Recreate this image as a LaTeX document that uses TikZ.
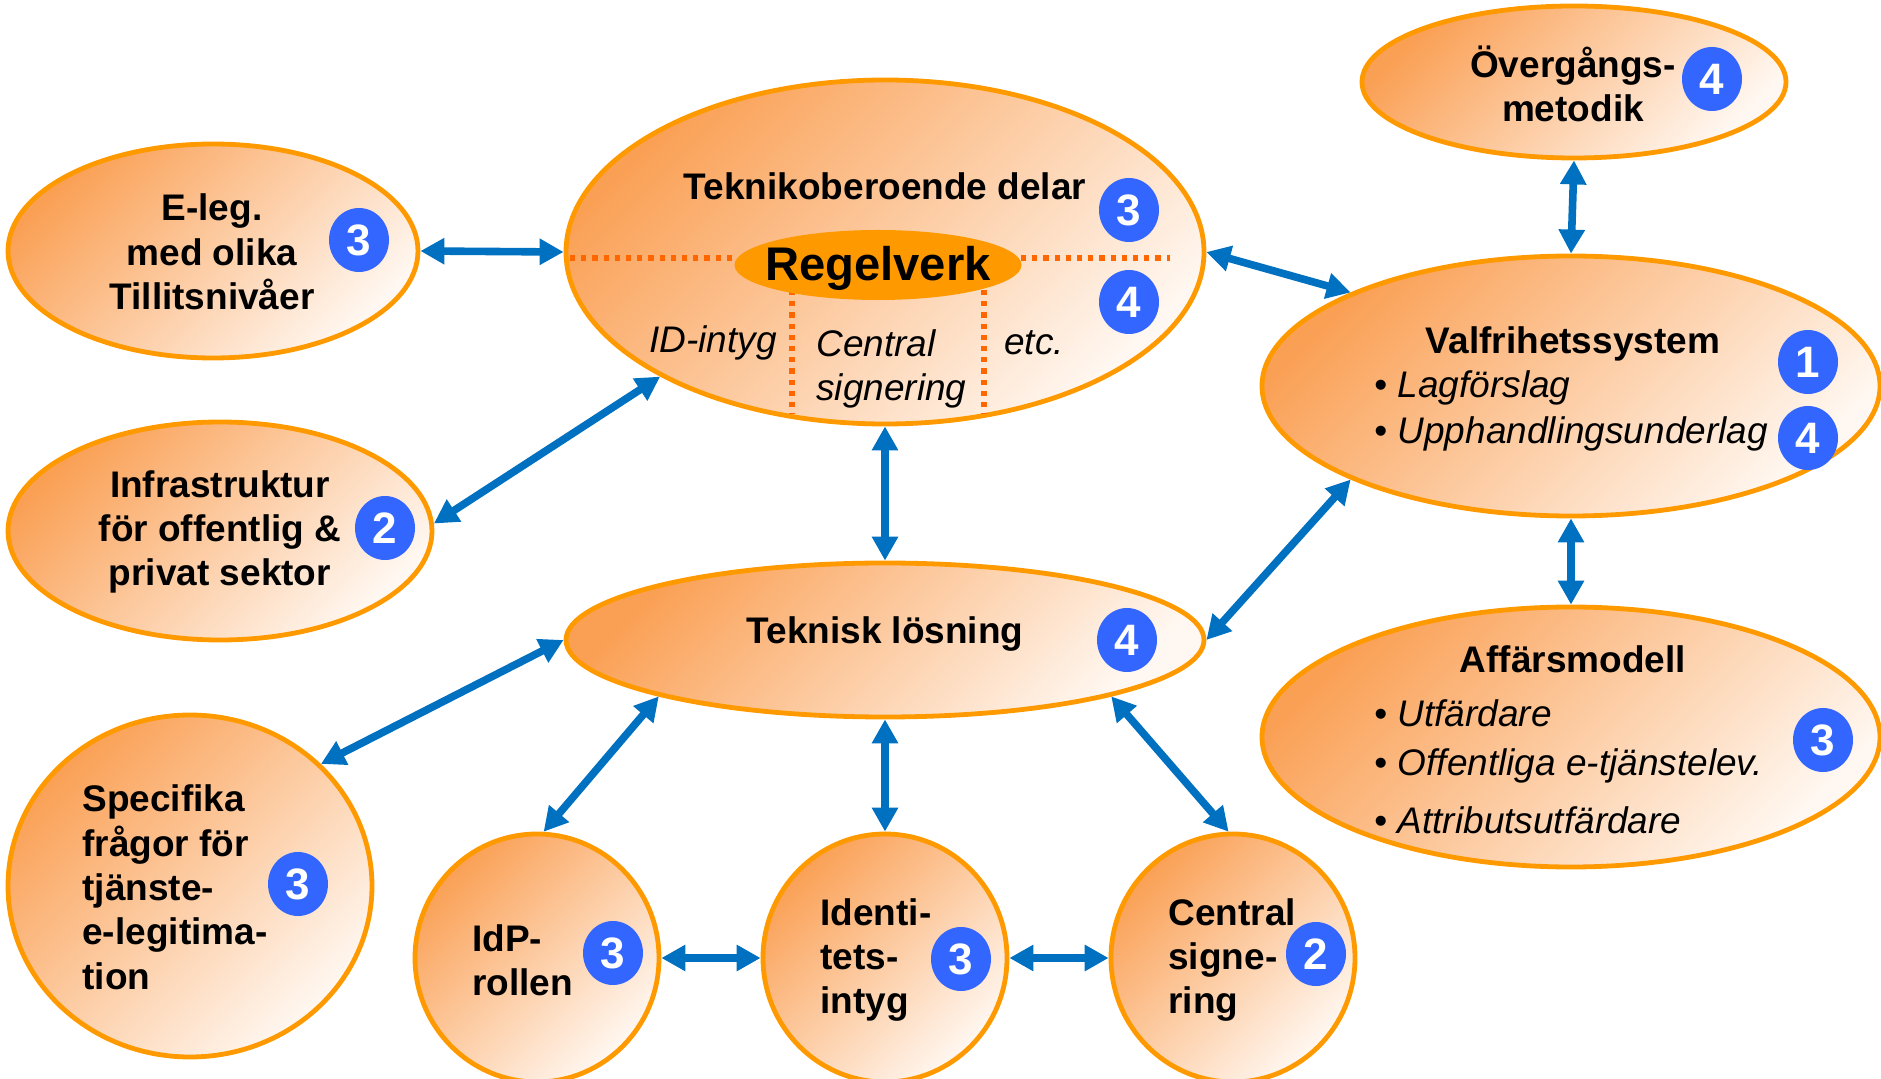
\documentclass[tikz,border=0pt]{standalone}
\usepackage{fontspec}
\setmainfont{Liberation Sans}
\usepackage{tikz}
\usetikzlibrary{shapes.geometric, arrows.meta}
\definecolor{ringorange}{RGB}{255,153,0}
\definecolor{fillorange}{RGB}{250,160,85}
\definecolor{fillwhite}{RGB}{255,248,242}
\definecolor{dotorange}{RGB}{255,102,0}
\definecolor{badgeblue}{RGB}{51,102,255}
\definecolor{linkblue}{RGB}{0,112,192}
\tikzstyle{bubble} = [ellipse, draw=ringorange, line width=2.4pt, top color=fillorange, bottom color=fillwhite, shading angle=45, inner sep=0pt]
\tikzstyle{badge} = [ellipse, fill=badgeblue, text=white, font=\fontsize{22}{22}\selectfont\bfseries, minimum width=30pt, minimum height=32pt, inner sep=0pt]
\tikzstyle{lbl} = [font=\fontsize{18.5}{22.2}\selectfont\bfseries, align=center, inner sep=0pt]
\tikzstyle{itl} = [font=\fontsize{18.5}{22.2}\selectfont\itshape, align=left, inner sep=0pt]
\tikzstyle{dblarrow} = [draw=linkblue, line width=3.8pt, {Triangle[length=12pt,width=12.5pt]}-{Triangle[length=12pt,width=12.5pt]}]
\tikzstyle{divider} = [draw=dotorange, line width=2.8pt, dash pattern=on 2.6pt off 3pt]

\begin{document}
\begin{tikzpicture}[x=0.5pt, y=-0.5pt]
        \useasboundingbox (0,0) rectangle (1881,1079);
        % Bubbles
        \node[bubble, minimum width=205pt, minimum height=107pt] (eleg) at (213,251) {};
        \node[bubble, minimum width=212pt, minimum height=109pt] (infra) at (220,531) {};
        \node[bubble, minimum width=319pt, minimum height=172pt] (tekob) at (885,252) {};
        \node[bubble, minimum width=212pt, minimum height=76pt] (overg) at (1574,82) {};
        \node[bubble, minimum width=309pt, minimum height=130pt] (valfr) at (1571,386) {};
        \node[bubble, minimum width=309pt, minimum height=130pt] (affar) at (1571,737) {};
        \node[bubble, minimum width=319pt, minimum height=77pt] (teklo) at (885,640) {};
        \node[bubble, minimum width=182pt, minimum height=171pt] (spec) at (190,886) {};
        \node[bubble, minimum width=122pt, minimum height=124pt] (idp) at (537,958) {};
        \node[bubble, minimum width=122pt, minimum height=124pt] (ident) at (885,958) {};
        \node[bubble, minimum width=122pt, minimum height=124pt] (csign) at (1233,958) {};

        % Regelverk and its dividers
        \draw[divider] (570,258) -- (734,258);
        \draw[divider] (1021,258) -- (1170,258);
        \draw[divider] (792,290) -- (792,414);
        \draw[divider] (984,290) -- (984,414);
        \node[ellipse, fill=ringorange, minimum width=143.5pt, minimum height=35pt, inner sep=0pt] (regel) at (878,265) {};
        \node[font=\fontsize{23.6}{24}\selectfont\bfseries, inner sep=0pt] (regeltxt) at (878,268) {Regelverk};

        % Texts
        \node[lbl] (elegtxt) at (212,252) {E-leg.\\med olika\\Tillitsnivåer};
        \node[lbl] (infratxt) at (220,532) {Infrastruktur\\för offentlig \&\\privat sektor};
        \node[lbl] (tekobtxt) at (885,186) {Teknikoberoende delar};
        \node[itl] (idintyg) at (713,343) {ID-intyg};
        \node[itl, anchor=west] (censig) at (816,369) {Central\\signering};
        \node[itl] (etc) at (1034,343) {etc.};
        \node[lbl] (overgtxt) at (1573,84) {Övergångs-\\metodik};
        \node[lbl] (valfrtxt) at (1573,344) {Valfrihetssystem};
        \node[itl, anchor=west] (valfr1) at (1374,388) {{\upshape\textbullet} Lagförslag};
        \node[itl, anchor=west] (valfr2) at (1374,434) {{\upshape\textbullet} Upphandlingsunderlag};
        \node[lbl] (affartxt) at (1573,659) {Affärsmodell};
        \node[itl, anchor=west] (affar1) at (1374,713) {{\upshape\textbullet} Utfärdare};
        \node[itl, anchor=west] (affar2) at (1374,766) {{\upshape\textbullet} Offentliga e-tjänstelev.};
        \node[itl, anchor=west] (affar3) at (1374,820) {{\upshape\textbullet} Attributsutfärdare};
        \node[lbl] (teklotxt) at (885,634) {Teknisk lösning};
        \node[lbl, align=left, anchor=west, text depth=0pt] (spectxt) at (82,887) {Specifika\\frågor för\\tjänste-\\e-legitima-\\tion};
        \node[lbl, align=left, anchor=west] (idptxt) at (472,960) {IdP-\\rollen};
        \node[lbl, align=left, anchor=west] (identtxt) at (820,960) {Identi-\\tets-\\intyg};
        \node[lbl, align=left, anchor=west] (csigntxt) at (1168,960) {Central\\signe-\\ring};

        % Badges
        \node[badge] (elegnr) at (359,240) {3};
        \node[badge] (infranr) at (385,528) {2};
        \node[badge] (tekobnra) at (1129,210) {3};
        \node[badge] (tekobnrb) at (1129,302) {4};
        \node[badge] (overgnr) at (1712,79) {4};
        \node[badge] (valfrnra) at (1808,362) {1};
        \node[badge] (valfrnrb) at (1808,438) {4};
        \node[badge] (affarnr) at (1823,740) {3};
        \node[badge] (teklonr) at (1127,640) {4};
        \node[badge] (specnr) at (298,884) {3};
        \node[badge] (idpnr) at (613,953) {3};
        \node[badge] (identnr) at (961,959) {3};
        \node[badge] (csignnr) at (1316,954) {2};

        % Links
        \draw[dblarrow] (eleg.east) -- (tekob.west);
        \draw[dblarrow] (infra.2) -- (tekob.209);
        \draw[dblarrow] (tekob.south) -- (teklo.north);
        \draw[dblarrow] (tekob.east) -- (valfr.157);
        \draw[dblarrow] (overg.south) -- (valfr.north);
        \draw[dblarrow] (valfr.south) -- (affar.north);
        \draw[dblarrow] (valfr.203) -- (teklo.east);
        \draw[dblarrow] (teklo.west) -- (spec.43);
        \draw[dblarrow] (teklo.194) -- (idp.87);
        \draw[dblarrow] (teklo.south) -- (ident.north);
        \draw[dblarrow] (teklo.-14) -- (csign.92);
        \draw[dblarrow] (idp.east) -- (ident.west);
        \draw[dblarrow] (ident.east) -- (csign.west);
\end{tikzpicture}
\end{document}
